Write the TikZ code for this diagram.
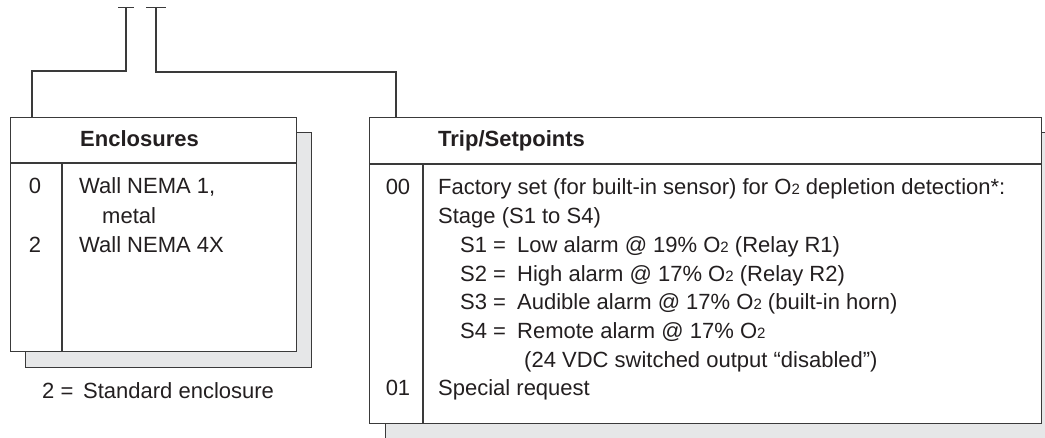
\documentclass[tikz,border=0pt]{standalone}
\usepackage{fontspec}
\setmainfont{Liberation Sans}
\usetikzlibrary{positioning}
\usetikzlibrary{arrows.meta}
\definecolor{linegray}{HTML}{3A3A3A}
\definecolor{shadegray}{HTML}{E6E7E8}
\definecolor{inkblack}{HTML}{231F20}
\tikzset{frame/.style={draw=linegray, line width=1.2pt, fill=white},
 shade box/.style={draw=linegray, line width=1.2pt, fill=shadegray},
 rule/.style={draw=linegray, line width=1.2pt},
 lead/.style={draw=linegray, line width=1.2pt},
 txt/.style={anchor=base west, inner sep=0pt, text=inkblack,
   font=\fontsize{22}{26}\selectfont},
 num/.style={txt, anchor=base},
 head/.style={txt, font=\fontsize{22}{26}\selectfont\bfseries},
 }
\newcommand{\otwo}{O{\fontsize{15}{15}\selectfont\raisebox{-0.5pt}{2}}}
\newcommand{\sline}[1]{\makebox[57pt][l]{#1 =}}

\begin{document}
\begin{tikzpicture}[x=1pt, y=-1pt]
        \useasboundingbox (0,0) rectangle (1045,437);
        \clip (0,0) rectangle (1045,437);
        % shadows first, boxes on top
        \node[shade box, anchor=north west, inner sep=0pt, minimum width=286pt, minimum height=235pt] (enclshade) at (25,132) {};
        \node[shade box, anchor=north west, inner sep=0pt, minimum width=672pt, minimum height=320pt] (tripshade) at (385,132) {};
        \node[frame, anchor=north west, inner sep=0pt, minimum width=286pt, minimum height=234pt] (encl) at (10,117) {};
        \node[frame, anchor=north west, inner sep=0pt, minimum width=672pt, minimum height=306pt] (trip) at (369,117) {};
        \draw[rule] (encl.west |- 0,163) -- (encl.east |- 0,163);
        \draw[rule] (62,163) -- (encl.south west -| 62,0);
        \draw[rule] (trip.west |- 0,164) -- (trip.east |- 0,164);
        \draw[rule] (423,164) -- (trip.south west -| 423,0);
        % leads up to the code positions
        \coordinate (encltop) at (126,7);
        \coordinate (triptop) at (156,7);
        \draw[lead, -{Bar[width=16pt]}] ([xshift=22pt]encl.north west) -- ++(0,-46) -| (encltop);
        \draw[lead, {Bar[width=20pt]}-] (triptop) -- ++(0,65) -| ([xshift=27pt]trip.north west);
        % headers
        \node[head] (enclhead) at (80,146) {Enclosures};
        \node[head] (triphead) at (438,146) {Trip/Setpoints};
        % enclosure rows
        \foreach \c/\y/\t[count=\i] in {0/193/{Wall NEMA 1,}, {}/223/{\hspace{23pt}metal}, 2/252/{Wall NEMA 4X}} {
            \node[num] (enclcode\i) at (35,\y) {\c};
            \node[txt] (enclrow\i) at (79,\y) {\t};
        }
        \node[txt] (enclnote) at (42,398) {\makebox[41pt][l]{2 =}Standard enclosure};
        % trip rows
        \node[num] (tripcode1) at (398,194) {00};
        \node[num] (tripcode2) at (398,395) {01};
        \foreach \x/\y/\t[count=\i] in {
            438/194/{Factory set (for built-in sensor) for \otwo{} depletion detection*:},
            438/223/{Stage (S1 to S4)},
            460/252/{\sline{S1}Low alarm @ 19\% \otwo{} (Relay R1)},
            460/281/{\sline{S2}High alarm @ 17\% \otwo{} (Relay R2)},
            460/309/{\sline{S3}Audible alarm @ 17\% \otwo{} (built-in horn)},
            460/338/{\sline{S4}Remote alarm @ 17\% \otwo},
            524/367/{(24 VDC switched output “disabled”)},
            438/395/{Special request}} {
            \node[txt] (triprow\i) at (\x,\y) {\t};
        }
    \end{tikzpicture}
\end{document}
